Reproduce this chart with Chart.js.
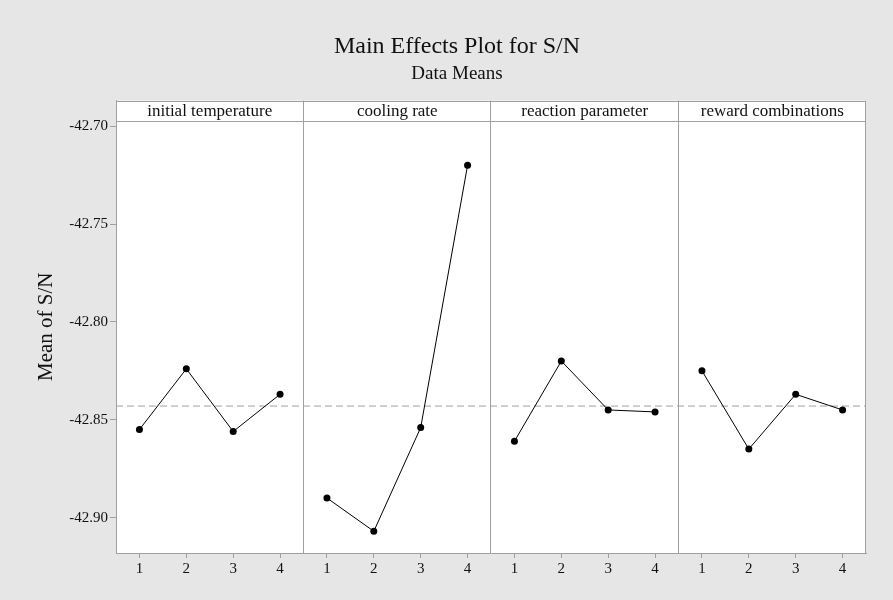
<!DOCTYPE html>
<html>
<head>
<meta charset="utf-8">
<script src="https://cdn.jsdelivr.net/npm/chart.js@4.4.1/dist/chart.umd.min.js"></script>
<style>
  body { margin: 0; background: #e6e6e6; }
  canvas { display: block; }
</style>
</head>
<body>
<canvas id="mainEffectsCanvas" width="893" height="600"></canvas>
<script>
// one panel per factor, each with levels 1..4
let factors = ['initial temperature', 'cooling rate', 'reaction parameter', 'reward combinations'];
let levels = [1, 2, 3, 4];
let initialTemperature = [-42.855, -42.824, -42.856, -42.837];
let coolingRate = [-42.890, -42.907, -42.854, -42.720];
let reactionParameter = [-42.861, -42.820, -42.845, -42.846];
let rewardCombinations = [-42.825, -42.865, -42.837, -42.845];
let grandMean = -42.843;
let yTicks = [-42.90, -42.85, -42.80, -42.75, -42.70];

let serif = "'Liberation Serif', 'Times New Roman', serif";
let gridGray = '#a0a0a0';
let headerHeight = 20;

let seriesList = [initialTemperature, coolingRate, reactionParameter, rewardCombinations];

// x is one linear axis, panel i covers 4*i+0.5 .. 4*i+4.5
let datasets = seriesList.map(function (values, i) {
    return {
        label: factors[i],
        data: levels.map(function (lv, j) { return { x: i * 4 + lv, y: values[j] }; }),
        borderColor: '#000',
        borderWidth: 1,
        pointRadius: 3.5,
        pointBackgroundColor: '#000',
        pointBorderWidth: 0,
        tension: 0
    };
});
datasets.push({
    label: 'mean',
    data: [{ x: 0.5, y: grandMean }, { x: factors.length * 4 + 0.5, y: grandMean }],
    borderColor: gridGray,
    borderWidth: 1,
    borderDash: [7, 4],
    pointRadius: 0
});

let panelPlugin = {
    id: 'panels',
    beforeDraw: function (chart) {
        let ctx = chart.ctx, a = chart.chartArea;
        ctx.save();
        ctx.fillStyle = '#e6e6e6';
        ctx.fillRect(0, 0, chart.width, chart.height);
        ctx.fillStyle = '#ffffff';
        ctx.fillRect(a.left, a.top, a.right - a.left, a.bottom - a.top);
        ctx.restore();
    },
    beforeDatasetsDraw: function (chart) {
        let ctx = chart.ctx, a = chart.chartArea, xs = chart.scales.x;
        ctx.save();
        ctx.strokeStyle = gridGray;
        ctx.lineWidth = 1;
        ctx.beginPath();
        for (let i = 1; i < factors.length; i++) {
            let px = Math.round(xs.getPixelForValue(i * 4 + 0.5)) - 0.5;
            ctx.moveTo(px, a.top);
            ctx.lineTo(px, a.bottom);
        }
        let hb = Math.round(a.top + headerHeight) + 0.5;
        ctx.moveTo(a.left, hb);
        ctx.lineTo(a.right, hb);
        ctx.moveTo(a.left, Math.round(a.top) + 0.5);
        ctx.lineTo(a.right, Math.round(a.top) + 0.5);
        ctx.moveTo(Math.round(a.right) - 0.5, a.top);
        ctx.lineTo(Math.round(a.right) - 0.5, a.bottom);
        ctx.stroke();

        ctx.fillStyle = '#111';
        ctx.font = '17px ' + serif;
        ctx.textAlign = 'center';
        ctx.textBaseline = 'middle';
        factors.forEach(function (name, i) {
            let cx = (xs.getPixelForValue(i * 4 + 0.5) + xs.getPixelForValue(i * 4 + 4.5)) / 2;
            ctx.fillText(name, cx, a.top + headerHeight / 2 + 1);
        });

        ctx.font = '21px ' + serif;
        ctx.translate(46, (a.top + a.bottom) / 2);
        ctx.rotate(-Math.PI / 2);
        ctx.fillText('Mean of S/N', 0, 0);
        ctx.restore();
    }
};

window.onload = function () {
    let ctx = document.getElementById('mainEffectsCanvas').getContext('2d');
    Chart.defaults.font.family = serif;
    Chart.defaults.color = '#111';

    window.mainEffects = new Chart(ctx, {
        type: 'line',
        data: { datasets: datasets },
        plugins: [panelPlugin],
        options: {
            responsive: false,
            animation: false,
            layout: { padding: { left: 48, right: 27, top: 32, bottom: 0 } },
            plugins: {
                legend: { display: false },
                tooltip: { enabled: false },
                title: {
                    display: true,
                    text: 'Main Effects Plot for S/N',
                    color: '#111',
                    font: { size: 24, weight: 'normal' },
                    padding: { top: 0, bottom: 0 }
                },
                subtitle: {
                    display: true,
                    text: 'Data Means',
                    color: '#111',
                    font: { size: 19, weight: 'normal' },
                    padding: { top: 2, bottom: 15 }
                }
            },
            scales: {
                x: {
                    type: 'linear',
                    min: 0.5,
                    max: factors.length * 4 + 0.5,
                    afterBuildTicks: function (scale) {
                        let t = [];
                        for (let i = 0; i < factors.length; i++) {
                            levels.forEach(function (lv) { t.push({ value: i * 4 + lv }); });
                        }
                        scale.ticks = t;
                    },
                    afterFit: function (scale) { scale.height = 47; },
                    ticks: {
                        padding: 2,
                        font: { size: 15 },
                        maxRotation: 0,
                        autoSkip: false,
                        callback: function (v) { return String(((v - 1) % 4) + 1); }
                    },
                    grid: { drawOnChartArea: false, drawTicks: true, tickLength: 5, color: gridGray },
                    border: { display: true, color: gridGray }
                },
                y: {
                    min: -42.9181,
                    max: -42.6869,
                    afterBuildTicks: function (scale) {
                        scale.ticks = yTicks.map(function (v) { return { value: v }; });
                    },
                    afterFit: function (scale) { scale.width = 68; },
                    ticks: {
                        padding: 2,
                        font: { size: 15 },
                        callback: function (v) { return v.toFixed(2); }
                    },
                    grid: { drawOnChartArea: false, drawTicks: true, tickLength: 6, color: gridGray },
                    border: { display: true, color: gridGray }
                }
            }
        }
    });
};
</script>
</body>
</html>
